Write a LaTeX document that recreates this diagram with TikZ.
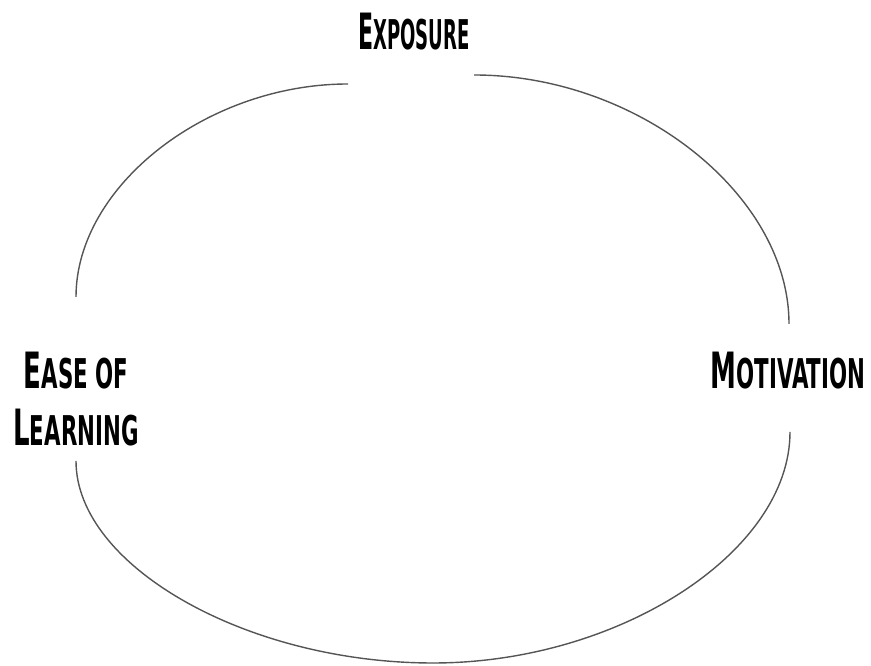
\documentclass[tikz,border=0pt]{standalone}
\usepackage{fontspec}
\newfontfamily\hand[FakeStretch=0.52]{DejaVu Sans}
\newfontfamily\handnarrow[FakeStretch=0.44]{DejaVu Sans}
\newcommand{\capword}[2]{{\fontsize{50}{57}\selectfont #1}{\fontsize{41}{57}\selectfont #2}}
\tikzset{
  label/.style={font=\hand\bfseries\fontsize{50}{57}\selectfont, align=center, anchor=base, inner sep=0pt},
  title/.style={label, font=\handnarrow\bfseries},
  ring/.style={draw={rgb,255:red,85;green,85;blue,85}, line width=1.4pt}
}
\begin{document}
\begin{tikzpicture}[x=1pt, y=1pt]
\useasboundingbox (0,0) rectangle (871,666);

% labels
\node[title] (exposure) at (414,616) {\capword{E}{XPOSURE}};
\node[label] (ease) at (76,220) {\capword{E}{ASE OF}\\\capword{L}{EARNING}};
\node[label] (motivation) at (788,277) {\capword{M}{OTIVATION}};

% ends of the ring beside each label
\coordinate (exposure-l) at (348,582);
\coordinate (exposure-r) at (474,591);
\coordinate (ease-t) at (76,369);
\coordinate (ease-b) at (76,205);
\coordinate (motivation-t) at (789,342);
\coordinate (motivation-b) at (790,234);
\coordinate (bottom) at (433,3);

% ring
\draw[ring] (exposure-l) .. controls (207,582) and (76,480) .. (ease-t);
\draw[ring] (exposure-r) .. controls (638,591) and (789,471) .. (motivation-t);
\draw[ring] (ease-b) .. controls (76,100) and (247,3) .. (bottom)
  .. controls (619,3) and (790,114) .. (motivation-b);
\end{tikzpicture}
\end{document}
